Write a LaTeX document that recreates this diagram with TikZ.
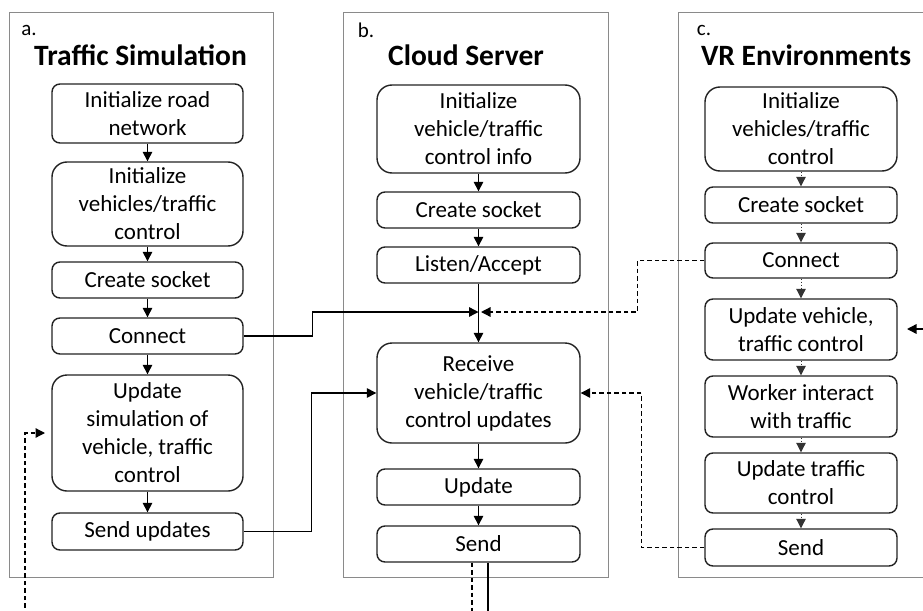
\documentclass[tikz,border=0pt]{standalone}
\usepackage{fontspec}
\setmainfont{Carlito}
\usetikzlibrary{arrows.meta,calc}
\definecolor{boxline}{HTML}{222222}
\definecolor{panelline}{HTML}{8A8A8A}
\tikzset{
  panel/.style={draw=panelline,line width=1pt},
  stepbox/.style={draw=boxline,line width=1.4pt,rounded corners=8pt,align=center,
    inner sep=0pt,font=\fontsize{23}{28}\selectfont},
  bigbox/.style={stepbox,rounded corners=15pt},
  arr/.style={draw=black,line width=1.4pt,-{Triangle[length=9.5pt,width=9.5pt]}},
  plain/.style={draw=black,line width=1.4pt},
  dsh/.style={draw=black,line width=1.3pt,dash pattern=on 4.5pt off 3pt},
  darr/.style={dsh,-{Triangle[length=9.5pt,width=9.5pt]}},
  dotarr/.style={draw=black!80,line width=1pt,dash pattern=on 1.5pt off 1.5pt,-{Triangle[length=9.5pt,width=9.5pt]}},
  ptitle/.style={font=\fontsize{29.5}{34}\selectfont\bfseries},
  plabel/.style={font=\fontsize{21}{24}\selectfont}
}
\begin{document}
\begin{tikzpicture}[x=1pt,y=-1pt]
\useasboundingbox (0,0) rectangle (923,610);
\clip (0,0) rectangle (923,610);
\fill[white] (0,0) rectangle (923,610);
% panels
\draw[panel] (9,13) rectangle (273,577);
\draw[panel] (343,13) rectangle (608,577);
\draw[panel] (678,13) rectangle (940,577);
\node[plabel] (la) at (29,30) {a.};
\node[plabel] (lb) at (366,30) {b.};
\node[plabel] (lc) at (704,30) {c.};
\node[ptitle] (ta) at (140.5,55) {Traffic Simulation};
\node[ptitle] (tb) at (466,55) {Cloud Server};
\node[ptitle] (tc) at (806,55) {VR Environments};
% panel a
\node[stepbox,minimum width=191pt,minimum height=59pt] (A1) at (147.5,113.5) {Initialize road\\network};
\node[bigbox,minimum width=191pt,minimum height=84pt] (A2) at (147.5,204) {Initialize\\vehicles/traffic\\control};
\node[stepbox,minimum width=191pt,minimum height=36pt] (A3) at (147.5,280) {Create socket};
\node[stepbox,minimum width=191pt,minimum height=36pt] (A4) at (147.5,336) {Connect};
\node[bigbox,minimum width=191pt,minimum height=116pt] (A5) at (147.5,433) {Update\\simulation of\\vehicle, traffic\\control};
\node[stepbox,minimum width=191pt,minimum height=37pt] (A6) at (147.5,531.5) {Send updates};
% panel b
\node[bigbox,minimum width=203pt,minimum height=88pt] (B1) at (478.5,129) {Initialize\\vehicle/traffic\\control info};
\node[stepbox,minimum width=203pt,minimum height=36pt] (B2) at (478.5,210) {Create socket};
\node[stepbox,minimum width=203pt,minimum height=36pt] (B3) at (478.5,265) {Listen/Accept};
\node[bigbox,minimum width=203pt,minimum height=100pt] (B4) at (478.5,393) {Receive\\vehicle/traffic\\control updates};
\node[stepbox,minimum width=203pt,minimum height=36pt] (B5) at (478.5,487) {Update};
\node[stepbox,minimum width=203pt,minimum height=36pt] (B6) at (478.5,544) {Send};
% panel c
\node[bigbox,minimum width=192pt,minimum height=84pt] (C1) at (801,129) {Initialize\\vehicles/traffic\\control};
\node[stepbox,minimum width=192pt,minimum height=36pt] (C2) at (801,205) {Create socket};
\node[stepbox,minimum width=192pt,minimum height=35pt] (C3) at (801,260.5) {Connect};
\node[stepbox,minimum width=192pt,minimum height=61pt] (C4) at (801,329.5) {Update vehicle,\\traffic control};
\node[stepbox,minimum width=192pt,minimum height=61pt] (C5) at (801,406.5) {Worker interact\\with traffic};
\node[stepbox,minimum width=192pt,minimum height=60pt] (C6) at (801,483) {Update traffic\\control};
\node[stepbox,minimum width=192pt,minimum height=37pt] (C7) at (801,547.5) {Send};
% coordinates
\coordinate (j) at (478.5,312);
\coordinate (jr) at (481,312);
\coordinate (ain) at (45,433);
\coordinate (abot) at (25,615);
\coordinate (bd) at (472,615);
\coordinate (bs) at (488,615);
\coordinate (rin) at (907,329);
\coordinate (rout) at (930,329);
% panel a arrows
\draw[arr] (A1) -- (A2);
\draw[arr] (A2) -- (A3);
\draw[arr] (A3) -- (A4);
\draw[arr] (A4) -- (A5);
\draw[arr] (A5) -- (A6);
% panel b arrows
\draw[arr] (B1) -- (B2);
\draw[arr] (B2) -- (B3);
\draw[arr] (B3) -- (B4);
\draw[arr] (B4) -- (B5);
\draw[arr] (B5) -- (B6);
% panel c arrows
\draw[dotarr] (C1) -- (C2);
\draw[dotarr] (C2) -- (C3);
\draw[dotarr] (C3) -- (C4);
\draw[dotarr] (C4) -- (C5);
\draw[dotarr] (C5) -- (C6);
\draw[dotarr] (C6) -- (C7);
% cross connectors
\draw[arr] (A4.east) -- ++(69,0) |- (j);
\draw[arr] (A6.east) -- ++(68,0) |- (B4.west);
\draw[darr] (C3.west) -- ++(-67,0) |- (jr);
\draw[darr] (C7.west) -- ++(-63,0) |- (B4.east);
\draw[darr] (abot) |- (ain);
\draw[dsh] (B6.south -| bd) -- (bd);
\draw[plain] (B6.south -| bs) -- (bs);
\draw[arr] (rout) -- (rin);
\end{tikzpicture}
\end{document}
